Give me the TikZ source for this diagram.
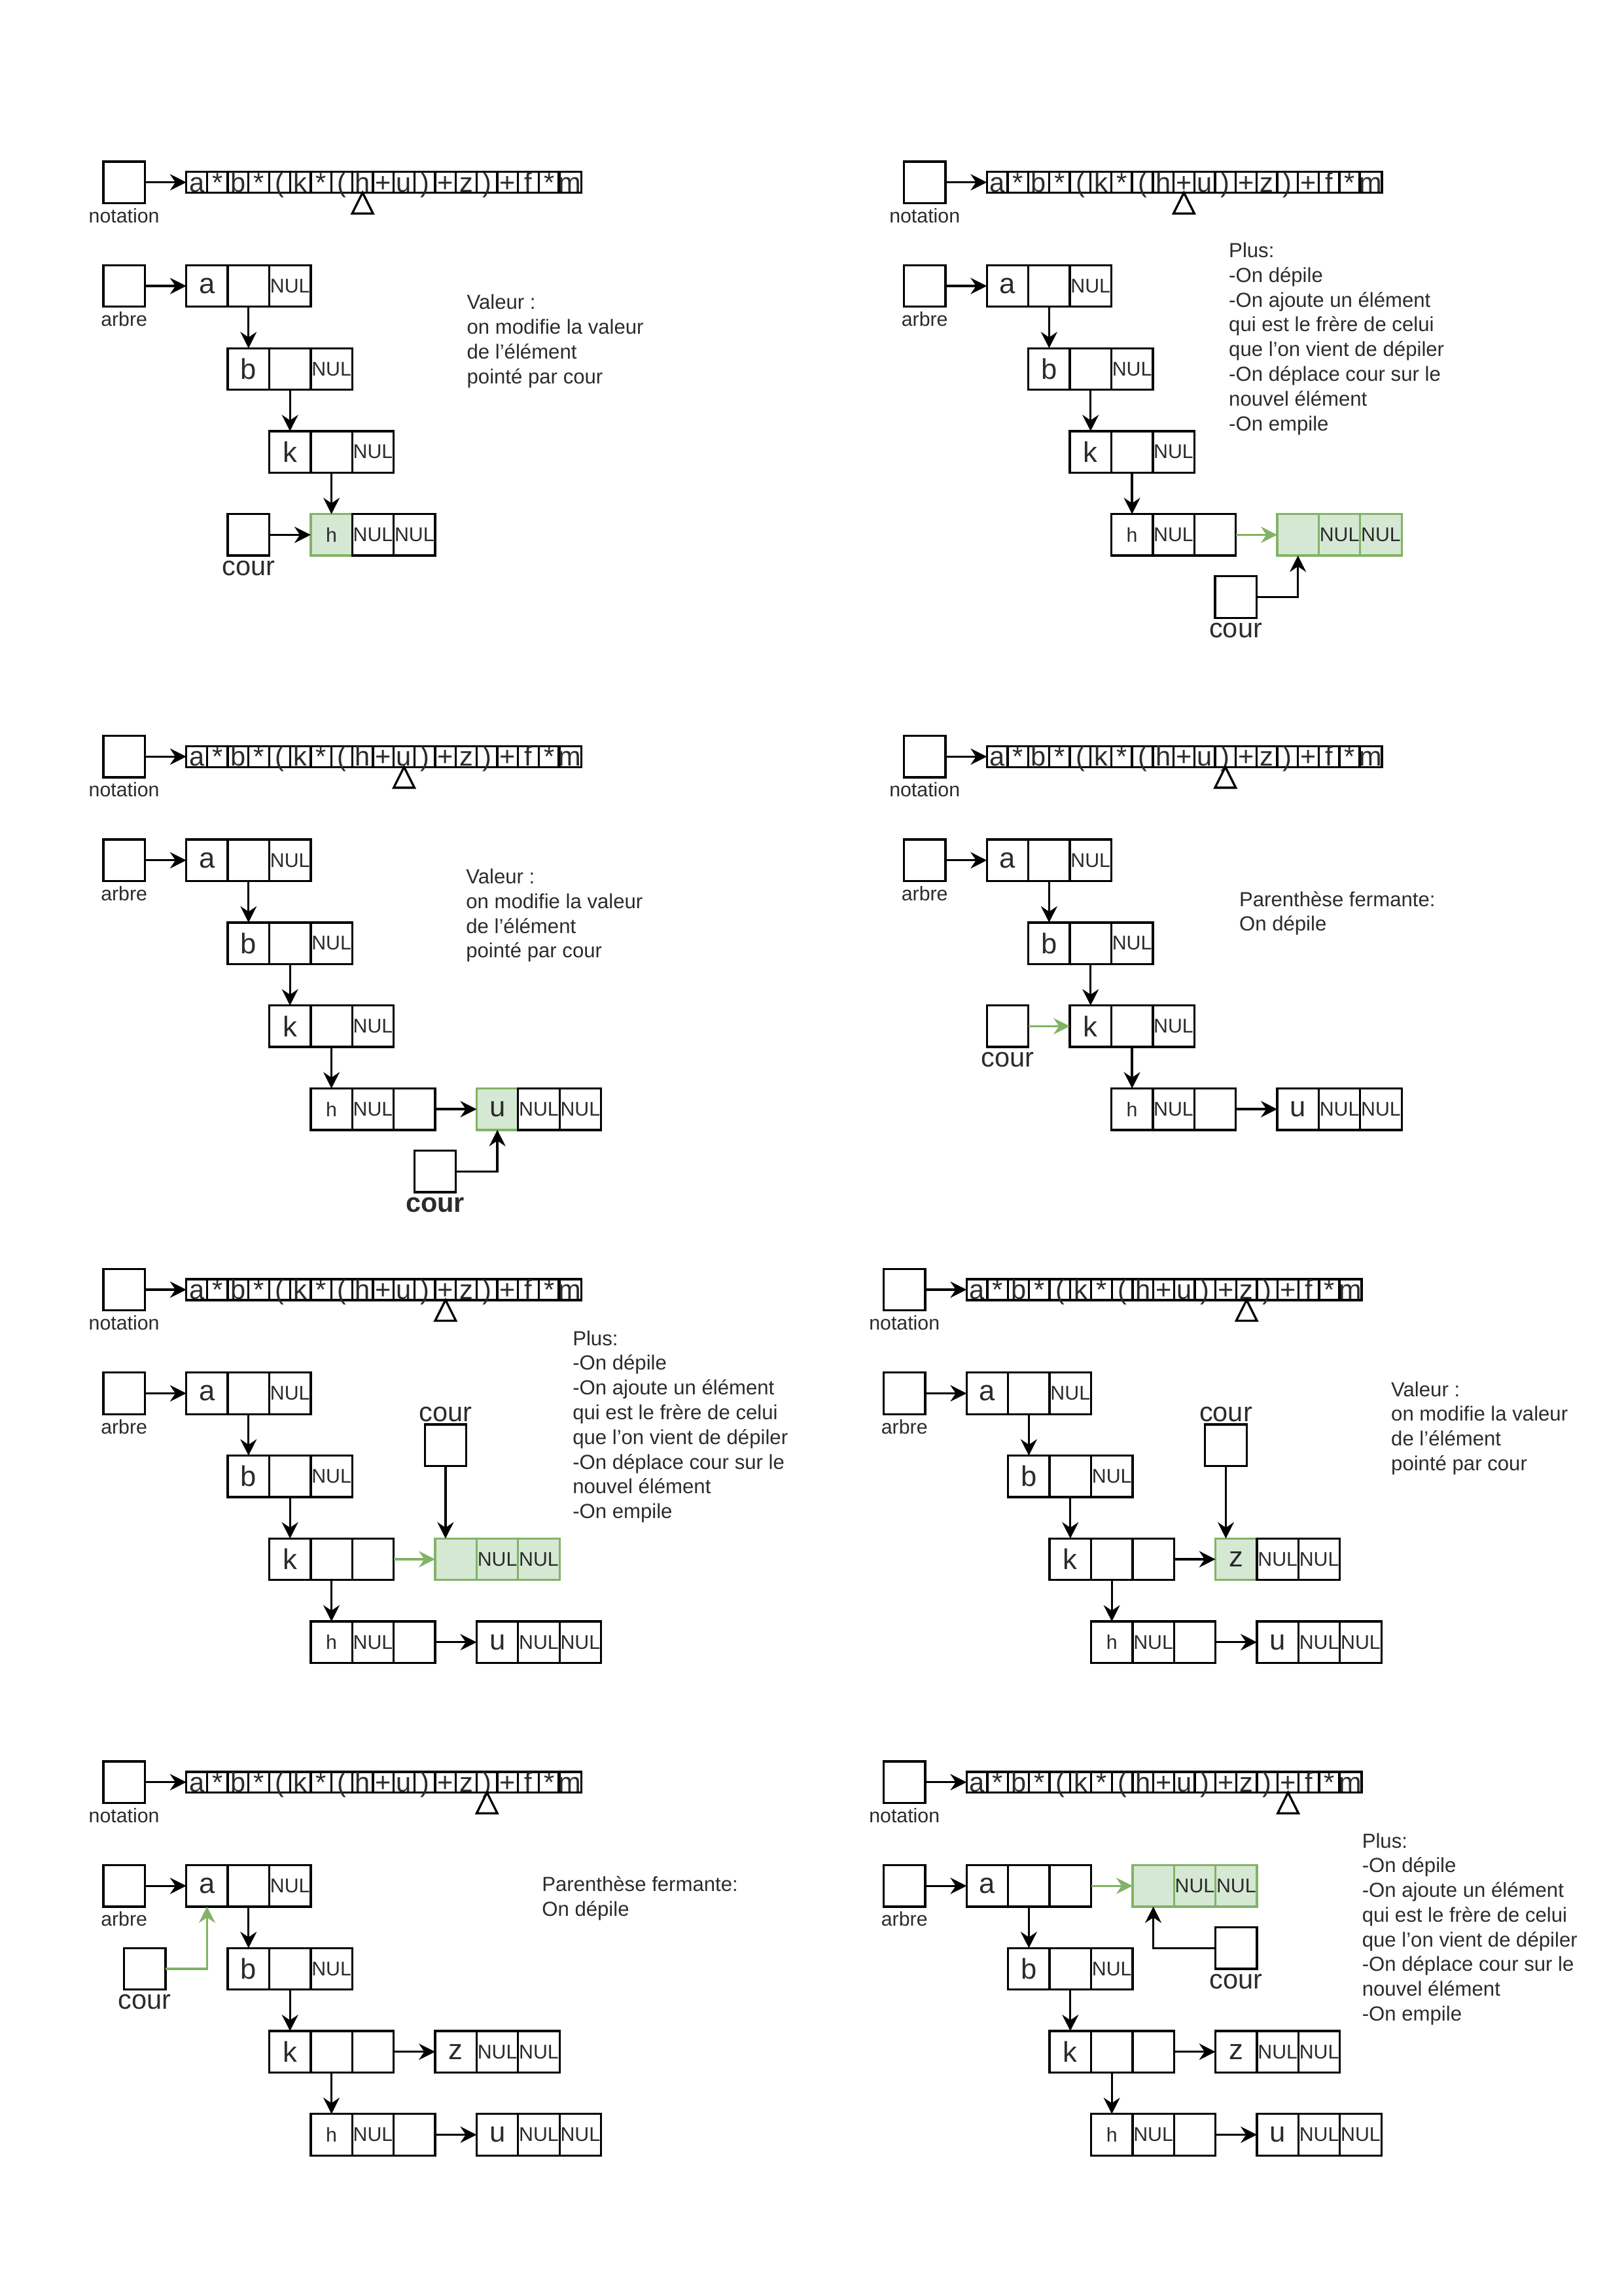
\documentclass[tikz,border=0pt]{standalone}
\usepackage{fontspec}
\setmainfont{Liberation Sans}
\usetikzlibrary{positioning,shapes.geometric,arrows.meta}
\definecolor{ink}{HTML}{2B2B2B}
\definecolor{hotfill}{HTML}{D5E8D4}
\definecolor{hotline}{HTML}{82B366}
\newlength{\cellw}\setlength{\cellw}{0.5365cm}
% notation string with its pointer, and the arbre box
\newcommand{\panelhead}[2]{%
  \node[ptr,anchor=north west] (#1n) at (0,0) {};
  \node[lbl,below=1.5pt of #1n] {notation};
  \foreach \ch [count=\i from 0] in {{a},{*},{b},{*},{(},{k},{*},{(},{h},{+},{u},{)},{+},{z},{)},{+},{f},{*},{m}}
    \node[chr] (#1s\i) at (2.25+.5*\i,.5) {\ch};
  \draw[arr] (#1n) -- (#1s0);
  \node[tri] (#1t) at (#1s#2.south) {};
  \node[ptr,anchor=north west] (#1r) at (0,2.5) {};
  \node[lbl,below=1.5pt of #1r] {arbre};
}
% one element: name, top-left corner, style of 1st cell, value, style of the others, two pointers
\newcommand{\cellrec}[7]{%
  \node[cell,anchor=north west,#3] (#1-1) at (#2) {#4};
  \node[cell,right=0pt of #1-1,#5] (#1-2) {#6};
  \node[cell,right=0pt of #1-2,#5] (#1-3) {#7};
}

\begin{document}
\begin{tikzpicture}[
  line width=0.8pt,
  cell/.style={draw,minimum width=\cellw,minimum height=\cellw,inner sep=0pt,outer sep=0pt,
    text=ink,font=\fontsize{7.3}{8}\selectfont},
  big/.style={font=\fontsize{10.5}{12}\selectfont},
  hot/.style={fill=hotfill,draw=hotline},
  chr/.style={draw,minimum width=.5\cellw,minimum height=.5\cellw,inner sep=0pt,outer sep=0pt,
    text=ink,font=\fontsize{10}{12}\selectfont,text height=7pt,text depth=0pt},
  ptr/.style={draw,minimum size=\cellw,inner sep=0pt,outer sep=0pt},
  tri/.style={draw,fill=white,isosceles triangle,isosceles triangle stretches,shape border rotate=90,
    minimum width=.5\cellw,minimum height=.5\cellw,inner sep=0pt,outer sep=0pt,anchor=apex},
  lbl/.style={inner sep=0pt,text=ink,font=\fontsize{7.3}{8}\selectfont},
  courlbl/.style={inner sep=0pt,text=ink,font=\fontsize{10}{12}\selectfont},
  note/.style={anchor=north west,align=left,inner sep=0pt,text=ink,font=\fontsize{7.5}{9.1}\selectfont},
  arr/.style={-{Stealth[length=6pt,width=6pt,inset=2pt]}},
  garr/.style={arr,draw=hotline}
]
\useasboundingbox (0,0) rectangle (21,-29.7);

% valeur h
\begin{scope}[shift={(1.337cm,-2.090cm)},x=\cellw,y=-\cellw]
  \panelhead{p1}{8}
  \cellrec{p1a}{2,2.5}{big}{a}{}{}{NUL}
  \cellrec{p1b}{3,4.5}{big}{b}{}{}{NUL}
  \cellrec{p1k}{4,6.5}{big}{k}{}{}{NUL}
  \cellrec{p1h}{5,8.5}{hot}{h}{}{NUL}{NUL}
  \node[ptr,anchor=north west] (p1c) at (3,8.5) {};
  \node[courlbl,below=1.5pt of p1c] {cour};
  \draw[arr] (p1r) -- (p1a-1);
  \draw[arr] (p1a-2.south) -- (p1b-1.north);
  \draw[arr] (p1b-2.south) -- (p1k-1.north);
  \draw[arr] (p1k-2.south) -- (p1h-1.north);
  \draw[arr] (p1c) -- (p1h-1);
  \node[note] at (8.74,3.18) {Valeur :\\on modifie la valeur\\de l'élément\\pointé par cour};
\end{scope}

% plus
\begin{scope}[shift={(11.693cm,-2.090cm)},x=\cellw,y=-\cellw]
  \panelhead{p2}{9}
  \cellrec{p2a}{2,2.5}{big}{a}{}{}{NUL}
  \cellrec{p2b}{3,4.5}{big}{b}{}{}{NUL}
  \cellrec{p2k}{4,6.5}{big}{k}{}{}{NUL}
  \cellrec{p2h}{5,8.5}{}{h}{}{NUL}{}
  \cellrec{p2g}{9,8.5}{hot}{}{hot}{NUL}{NUL}
  \node[ptr,anchor=north west] (p2c) at (7.5,10) {};
  \node[courlbl,below=1.5pt of p2c] {cour};
  \draw[arr] (p2r) -- (p2a-1);
  \draw[arr] (p2a-2.south) -- (p2b-1.north);
  \draw[arr] (p2b-2.south) -- (p2k-1.north);
  \draw[arr] (p2k-2.south) -- (p2h-1.north);
  \draw[garr] (p2h-3) -- (p2g-1);
  \draw[arr] (p2c.east) -| (p2g-1.south);
  \node[note] at (7.81,1.93) {Plus:\\-On dépile\\-On ajoute un élément\\qui est le frère de celui\\que l'on vient de dépiler\\-On déplace cour sur le\\nouvel élément\\-On empile};
\end{scope}

% valeur u
\begin{scope}[shift={(1.337cm,-9.519cm)},x=\cellw,y=-\cellw]
  \panelhead{p3}{10}
  \cellrec{p3a}{2,2.5}{big}{a}{}{}{NUL}
  \cellrec{p3b}{3,4.5}{big}{b}{}{}{NUL}
  \cellrec{p3k}{4,6.5}{big}{k}{}{}{NUL}
  \cellrec{p3h}{5,8.5}{}{h}{}{NUL}{}
  \cellrec{p3u}{9,8.5}{big,hot}{u}{}{NUL}{NUL}
  \node[ptr,anchor=north west] (p3c) at (7.5,10) {};
  \node[courlbl,font=\fontsize{10}{12}\selectfont\bfseries,below=1.5pt of p3c] {cour};
  \draw[arr] (p3r) -- (p3a-1);
  \draw[arr] (p3a-2.south) -- (p3b-1.north);
  \draw[arr] (p3b-2.south) -- (p3k-1.north);
  \draw[arr] (p3k-2.south) -- (p3h-1.north);
  \draw[arr] (p3h-3) -- (p3u-1);
  \draw[arr] (p3c.east) -| (p3u-1.south);
  \node[note] at (8.72,3.18) {Valeur :\\on modifie la valeur\\de l'élément\\pointé par cour};
\end{scope}

% parenthese fermante
\begin{scope}[shift={(11.693cm,-9.519cm)},x=\cellw,y=-\cellw]
  \panelhead{p4}{11}
  \cellrec{p4a}{2,2.5}{big}{a}{}{}{NUL}
  \cellrec{p4b}{3,4.5}{big}{b}{}{}{NUL}
  \cellrec{p4k}{4,6.5}{big}{k}{}{}{NUL}
  \cellrec{p4h}{5,8.5}{}{h}{}{NUL}{}
  \cellrec{p4u}{9,8.5}{big}{u}{}{NUL}{NUL}
  \node[ptr,anchor=north west] (p4c) at (2,6.5) {};
  \node[courlbl,below=1.5pt of p4c] {cour};
  \draw[arr] (p4r) -- (p4a-1);
  \draw[arr] (p4a-2.south) -- (p4b-1.north);
  \draw[arr] (p4b-2.south) -- (p4k-1.north);
  \draw[arr] (p4k-2.south) -- (p4h-1.north);
  \draw[arr] (p4h-3) -- (p4u-1);
  \draw[garr] (p4c) -- (p4k-1);
  \node[note] at (8.06,3.72) {Parenthèse fermante:\\On dépile};
\end{scope}

% plus
\begin{scope}[shift={(1.337cm,-16.414cm)},x=\cellw,y=-\cellw]
  \panelhead{p5}{12}
  \cellrec{p5a}{2,2.5}{big}{a}{}{}{NUL}
  \cellrec{p5b}{3,4.5}{big}{b}{}{}{NUL}
  \cellrec{p5k}{4,6.5}{big}{k}{}{}{}
  \cellrec{p5g}{8,6.5}{hot}{}{hot}{NUL}{NUL}
  \cellrec{p5h}{5,8.5}{}{h}{}{NUL}{}
  \cellrec{p5u}{9,8.5}{big}{u}{}{NUL}{NUL}
  \node[ptr,anchor=north west] (p5c) at (7.75,3.75) {};
  \node[courlbl,above=.5pt of p5c] {cour};
  \draw[arr] (p5r) -- (p5a-1);
  \draw[arr] (p5a-2.south) -- (p5b-1.north);
  \draw[arr] (p5b-2.south) -- (p5k-1.north);
  \draw[arr] (p5k-2.south) -- (p5h-1.north);
  \draw[garr] (p5k-3) -- (p5g-1);
  \draw[arr] (p5h-3) -- (p5u-1);
  \draw[arr] (p5c.south) -- (p5c.south |- p5g-1.north);
  \node[note] at (11.29,1.46) {Plus:\\-On dépile\\-On ajoute un élément\\qui est le frère de celui\\que l'on vient de dépiler\\-On déplace cour sur le\\nouvel élément\\-On empile};
\end{scope}

% valeur z
\begin{scope}[shift={(11.431cm,-16.414cm)},x=\cellw,y=-\cellw]
  \panelhead{p6}{13}
  \cellrec{p6a}{2,2.5}{big}{a}{}{}{NUL}
  \cellrec{p6b}{3,4.5}{big}{b}{}{}{NUL}
  \cellrec{p6k}{4,6.5}{big}{k}{}{}{}
  \cellrec{p6z}{8,6.5}{big,hot}{z}{}{NUL}{NUL}
  \cellrec{p6h}{5,8.5}{}{h}{}{NUL}{}
  \cellrec{p6u}{9,8.5}{big}{u}{}{NUL}{NUL}
  \node[ptr,anchor=north west] (p6c) at (7.75,3.75) {};
  \node[courlbl,above=.5pt of p6c] {cour};
  \draw[arr] (p6r) -- (p6a-1);
  \draw[arr] (p6a-2.south) -- (p6b-1.north);
  \draw[arr] (p6b-2.south) -- (p6k-1.north);
  \draw[arr] (p6k-2.south) -- (p6h-1.north);
  \draw[arr] (p6k-3) -- (p6z-1);
  \draw[arr] (p6h-3) -- (p6u-1);
  \draw[arr] (p6c.south) -- (p6c.south |- p6z-1.north);
  \node[note] at (12.21,2.69) {Valeur :\\on modifie la valeur\\de l'élément\\pointé par cour};
\end{scope}

% parenthese fermante
\begin{scope}[shift={(1.337cm,-22.785cm)},x=\cellw,y=-\cellw]
  \panelhead{p7}{14}
  \cellrec{p7a}{2,2.5}{big}{a}{}{}{NUL}
  \cellrec{p7b}{3,4.5}{big}{b}{}{}{NUL}
  \cellrec{p7k}{4,6.5}{big}{k}{}{}{}
  \cellrec{p7z}{8,6.5}{big}{z}{}{NUL}{NUL}
  \cellrec{p7h}{5,8.5}{}{h}{}{NUL}{}
  \cellrec{p7u}{9,8.5}{big}{u}{}{NUL}{NUL}
  \node[ptr,anchor=north west] (p7c) at (0.5,4.5) {};
  \node[courlbl,below=1.5pt of p7c] {cour};
  \draw[arr] (p7r) -- (p7a-1);
  \draw[arr] (p7a-2.south) -- (p7b-1.north);
  \draw[arr] (p7b-2.south) -- (p7k-1.north);
  \draw[arr] (p7k-2.south) -- (p7h-1.north);
  \draw[arr] (p7k-3) -- (p7z-1);
  \draw[arr] (p7h-3) -- (p7u-1);
  \draw[garr] (p7c.east) -| (p7a-1.south);
  \node[note] at (10.55,2.75) {Parenthèse fermante:\\On dépile};
\end{scope}

% plus
\begin{scope}[shift={(11.431cm,-22.785cm)},x=\cellw,y=-\cellw]
  \panelhead{p8}{15}
  \cellrec{p8a}{2,2.5}{big}{a}{}{}{}
  \cellrec{p8g}{6,2.5}{hot}{}{hot}{NUL}{NUL}
  \cellrec{p8b}{3,4.5}{big}{b}{}{}{NUL}
  \cellrec{p8k}{4,6.5}{big}{k}{}{}{}
  \cellrec{p8z}{8,6.5}{big}{z}{}{NUL}{NUL}
  \cellrec{p8h}{5,8.5}{}{h}{}{NUL}{}
  \cellrec{p8u}{9,8.5}{big}{u}{}{NUL}{NUL}
  \node[ptr,anchor=north west] (p8c) at (8,4) {};
  \node[courlbl,below=1.5pt of p8c] {cour};
  \draw[arr] (p8r) -- (p8a-1);
  \draw[garr] (p8a-3) -- (p8g-1);
  \draw[arr] (p8a-2.south) -- (p8b-1.north);
  \draw[arr] (p8b-2.south) -- (p8k-1.north);
  \draw[arr] (p8k-2.south) -- (p8h-1.north);
  \draw[arr] (p8k-3) -- (p8z-1);
  \draw[arr] (p8h-3) -- (p8u-1);
  \draw[arr] (p8c.west) -| (p8g-1.south);
  \node[note] at (11.51,1.70) {Plus:\\-On dépile\\-On ajoute un élément\\qui est le frère de celui\\que l'on vient de dépiler\\-On déplace cour sur le\\nouvel élément\\-On empile};
\end{scope}
\end{tikzpicture}
\end{document}
